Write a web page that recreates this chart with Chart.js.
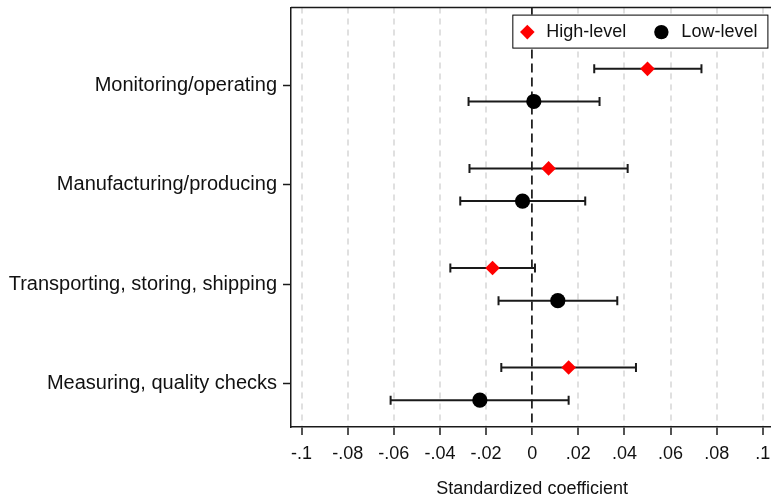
<!DOCTYPE html>
<html>
<head>
<meta charset="utf-8">
<script src="https://cdn.jsdelivr.net/npm/chart.js@4.4.1/dist/chart.umd.min.js"></script>
<style>
  html, body { margin: 0; padding: 0; background: #fff; overflow: hidden; }
  #wrap { width: 781px; height: 495px; position: relative; }
</style>
</head>
<body>
<div id="wrap"><canvas id="coefChart"></canvas></div>
<script>
// --- data ---
const categories = ['Monitoring/operating', 'Manufacturing/producing', 'Transporting, storing, shipping', 'Measuring, quality checks'];

const highCoef = [0.0500, 0.0071, -0.0172, 0.0158];
const highLo   = [0.0269, -0.0272, -0.0355, -0.0134];
const highHi   = [0.0734, 0.0414, 0.0012, 0.0450];

const lowCoef  = [0.0007, -0.0042, 0.0111, -0.0227];
const lowLo    = [-0.0276, -0.0312, -0.0146, -0.0614];
const lowHi    = [0.0292, 0.0230, 0.0369, 0.0158];

const xTicks      = [-0.1, -0.08, -0.06, -0.04, -0.02, 0, 0.02, 0.04, 0.06, 0.08, 0.1];
const xTickLabels = ['-.1', '-.08', '-.06', '-.04', '-.02', '0', '.02', '.04', '.06', '.08', '.1'];

// layout bits
const FONT = "'Liberation Sans', Arial, sans-serif";
const groupOffset = 0.164;

const toPoints = (vals, shift) => vals.map((v, i) => ({ x: v, y: i + 1 + shift }));

// error bars, drawn under the markers
const ciBars = {
    id: 'ciBars',
    beforeDatasetsDraw(chart) {
        const { ctx, scales: { x, y } } = chart;
        ctx.save();
        ctx.strokeStyle = '#1a1a1a';
        ctx.lineWidth = 2;
        chart.data.datasets.forEach(ds => {
            ds.data.forEach((p, i) => {
                const x1 = x.getPixelForValue(ds.lo[i]);
                const x2 = x.getPixelForValue(ds.hi[i]);
                const py = y.getPixelForValue(p.y);
                ctx.beginPath();
                ctx.moveTo(x1, py); ctx.lineTo(x2, py);
                ctx.moveTo(x1, py - 4.5); ctx.lineTo(x1, py + 4.5);
                ctx.moveTo(x2, py - 4.5); ctx.lineTo(x2, py + 4.5);
                ctx.stroke();
            });
        });
        ctx.restore();
    }
};

// top + right edge of the plot box, and the legend inside it
const boxAndLegend = {
    id: 'boxAndLegend',
    afterDraw(chart) {
        const { ctx, chartArea: a } = chart;
        ctx.save();
        ctx.strokeStyle = '#1a1a1a';
        ctx.lineWidth = 1.5;
        ctx.beginPath();
        ctx.moveTo(a.left, a.top); ctx.lineTo(a.right, a.top); ctx.lineTo(a.right, a.bottom);
        ctx.stroke();

        // legend
        ctx.font = '18px ' + FONT;
        const w1 = ctx.measureText(chart.data.datasets[0].label).width;
        const w2 = ctx.measureText(chart.data.datasets[1].label).width;
        const boxW = 15 + 19 + w1 + 35 + 20 + w2 + 10;
        const boxH = 33;
        const bx = a.right - 6 - boxW;
        const by = a.top + 7;
        ctx.fillStyle = '#fff';
        ctx.fillRect(bx, by, boxW, boxH);
        ctx.lineWidth = 1;
        ctx.strokeStyle = '#000';
        ctx.strokeRect(bx + 0.5, by + 0.5, boxW, boxH);

        const cy = by + boxH / 2 + 1;
        // diamond
        let mx = bx + 15;
        ctx.fillStyle = '#ff0000';
        ctx.beginPath();
        ctx.moveTo(mx - 7.3, cy); ctx.lineTo(mx, cy - 7.3); ctx.lineTo(mx + 7.3, cy); ctx.lineTo(mx, cy + 7.3);
        ctx.closePath(); ctx.fill();
        ctx.fillStyle = '#111';
        ctx.textBaseline = 'middle';
        ctx.textAlign = 'left';
        ctx.fillText(chart.data.datasets[0].label, mx + 19, cy);
        // circle
        mx = mx + 19 + w1 + 35;
        ctx.fillStyle = '#000';
        ctx.beginPath(); ctx.arc(mx, cy, 7.2, 0, Math.PI * 2); ctx.fill();
        ctx.fillStyle = '#111';
        ctx.fillText(chart.data.datasets[1].label, mx + 20, cy);
        ctx.restore();
    }
};

new Chart(document.getElementById('coefChart'), {
    type: 'scatter',
    data: {
        datasets: [
            {
                label: 'High-level',
                data: toPoints(highCoef, -groupOffset),
                lo: highLo, hi: highHi,
                pointStyle: 'rectRot',
                pointRadius: 7.3,
                pointBorderWidth: 0,
                backgroundColor: '#ff0000',
                borderColor: '#ff0000'
            },
            {
                label: 'Low-level',
                data: toPoints(lowCoef, groupOffset),
                lo: lowLo, hi: lowHi,
                pointStyle: 'circle',
                pointRadius: 7.6,
                pointBorderWidth: 0,
                backgroundColor: '#000',
                borderColor: '#000'
            }
        ]
    },
    options: {
        responsive: true,
        maintainAspectRatio: false,
        animation: false,
        layout: { padding: { top: 7, right: 0, left: 0, bottom: 0 } },
        plugins: { legend: { display: false }, tooltip: { enabled: false } },
        scales: {
            x: {
                type: 'linear',
                min: -0.1046,
                max: 0.1046,
                afterFit: s => { s.height = 68; s.paddingLeft = 0; s.paddingRight = 0; },
                afterBuildTicks: s => { s.ticks = xTicks.map(v => ({ value: v })); },
                ticks: {
                    includeBounds: false,
                    autoSkip: false,
                    maxRotation: 0,
                    padding: 8,
                    color: '#111',
                    font: { family: FONT, size: 18 },
                    callback: (v, i) => xTickLabels[i]
                },
                grid: {
                    color: c => (c.tick && c.tick.value === 0) ? '#222' : '#e0e0e0',
                    lineWidth: c => (c.tick && c.tick.value === 0) ? 1.8 : 2,
                    drawTicks: true,
                    tickLength: 8,
                    tickColor: '#1a1a1a',
                    tickWidth: 1.5
                },
                border: {
                    display: true,
                    color: '#1a1a1a',
                    width: 1.5,
                    dash: c => (c.tick && c.tick.value === 0) ? [9, 5] : [6, 5]
                },
                title: {
                    display: true,
                    text: 'Standardized coefficient',
                    color: '#111',
                    font: { family: FONT, size: 18, lineHeight: 1 },
                    padding: { top: 0, bottom: -3 }
                }
            },
            y: {
                type: 'linear',
                reverse: true,
                min: 0.221,
                max: 4.433,
                afterFit: s => { s.width = 291; s.paddingTop = 0; s.paddingBottom = 0; },
                afterBuildTicks: s => { s.ticks = categories.map((c, i) => ({ value: i + 1 })); },
                ticks: {
                    autoSkip: false,
                    padding: 6,
                    color: '#111',
                    font: { family: FONT, size: 20 },
                    callback: (v, i) => categories[i]
                },
                grid: {
                    drawOnChartArea: false,
                    drawTicks: true,
                    tickLength: 8,
                    tickColor: '#1a1a1a',
                    tickWidth: 1.5
                },
                border: { display: true, color: '#1a1a1a', width: 1.5 }
            }
        }
    },
    plugins: [ciBars, boxAndLegend]
});
</script>
</body>
</html>
